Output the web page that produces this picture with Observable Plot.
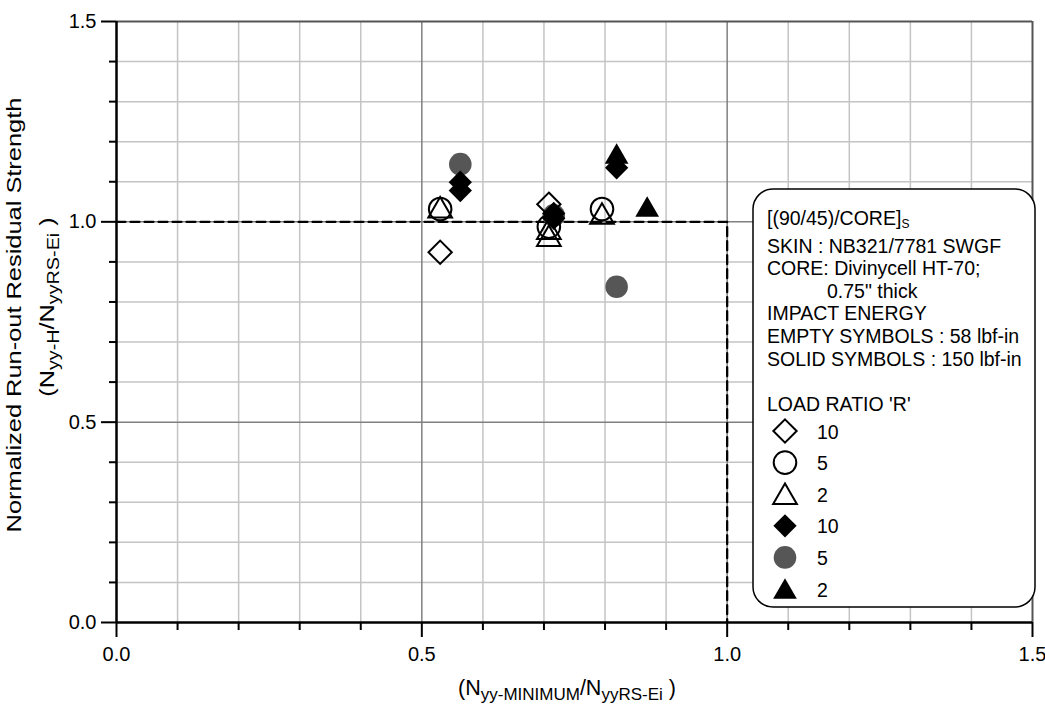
<!DOCTYPE html>
<html>
<head>
<meta charset="utf-8">
<script src="https://cdn.jsdelivr.net/npm/d3@7"></script>
<script src="https://cdn.jsdelivr.net/npm/@observablehq/plot@0.6"></script>
<style>
  html, body { margin: 0; padding: 0; background: #fff; }
  #chart svg { display: block; }
</style>
</head>
<body>
<div id="chart"></div>
<script>
// ---- tick values ----
const xMajor = [0, 0.5, 1.0, 1.5];
const xMinor = [0.1, 0.2, 0.3, 0.4, 0.6, 0.7, 0.8, 0.9, 1.1, 1.2, 1.3, 1.4];
const yMajor = [0, 0.5, 1.0, 1.5];
const yMinor = [0.1, 0.2, 0.3, 0.4, 0.6, 0.7, 0.8, 0.9, 1.1, 1.2, 1.3, 1.4];

// ---- reference (dashed) path ----
const refPath = [[0, 1.0], [1.0, 1.0], [1.0, 0]];

// ---- data series [x, y] ----
// empty symbols : 58 lbf-in
const r10_58 = [[0.530, 0.924], [0.708, 1.044]];
const r5_58  = [[0.530, 1.032], [0.708, 0.988], [0.795, 1.032]];
const r2_58  = [[0.530, 1.028], [0.708, 0.974], [0.708, 0.957], [0.795, 1.012]];
// solid symbols : 150 lbf-in
const r5_150  = [[0.563, 1.144], [0.716, 1.016], [0.819, 0.838]];
const r10_150 = [[0.563, 1.099], [0.563, 1.078], [0.716, 1.021], [0.716, 1.009], [0.819, 1.135]];
const r2_150  = [[0.819, 1.162], [0.869, 1.030]];

// ---- legend ----
const legendLines = [
  "SKIN : NB321/7781 SWGF",
  "CORE: Divinycell HT-70;",
  "0.75\" thick",
  "IMPACT ENERGY",
  "EMPTY SYMBOLS : 58 lbf-in",
  "SOLID SYMBOLS : 150 lbf-in",
  "",
  "LOAD RATIO 'R'"
];
const legendItems = [
  {label: "10", symbol: "diamond2", fill: "none", stroke: "black"},
  {label: "5",  symbol: "circle",   fill: "none", stroke: "black"},
  {label: "2",  symbol: "triangle", fill: "none", stroke: "black"},
  {label: "10", symbol: "diamond2", fill: "black", stroke: "none"},
  {label: "5",  symbol: "circle",   fill: "#565656", stroke: "none"},
  {label: "2",  symbol: "triangle", fill: "black", stroke: "none"}
];

const FONT = "'Liberation Sans', Arial, Helvetica, sans-serif";
const R_CIRCLE = 11.3, R_DIAMOND = 10.5, R_TRI = 8.8;
const symR = {circle: R_CIRCLE, diamond2: R_DIAMOND, triangle: R_TRI};
const fmt = d3.format(".1f");

const chart = Plot.plot({
  width: 1045,
  height: 704,
  marginLeft: 116,
  marginRight: 13,
  marginTop: 21,
  marginBottom: 82,
  x: {domain: [0, 1.5]},
  y: {domain: [0, 1.5]},
  style: {fontFamily: FONT, color: "black", background: "white", overflow: "visible"},
  marks: [
    Plot.gridX(xMinor, {stroke: "#c4c4c4", strokeOpacity: 1, strokeWidth: 1.5}),
    Plot.gridY(yMinor, {stroke: "#c4c4c4", strokeOpacity: 1, strokeWidth: 1.5}),
    Plot.gridX([0.5, 1.0], {stroke: "#808080", strokeOpacity: 1, strokeWidth: 1.5}),
    Plot.gridY([0.5, 1.0], {stroke: "#808080", strokeOpacity: 1, strokeWidth: 1.5}),
    Plot.ruleX([1.5], {stroke: "#555", strokeWidth: 2}),
    Plot.ruleY([1.5], {stroke: "#555", strokeWidth: 2}),
    Plot.line(refPath, {stroke: "black", strokeWidth: 2.3, strokeDasharray: "9,5"}),
    Plot.axisX(xMinor, {tickSize: 8, strokeWidth: 2, tickFormat: () => "", label: null}),
    Plot.axisX(xMajor, {tickSize: 15, tickPadding: 9, strokeWidth: 2, fontSize: 20, tickFormat: fmt, label: null}),
    Plot.axisY(yMinor, {tickSize: 7, strokeWidth: 2, tickFormat: () => "", label: null}),
    Plot.axisY(yMajor, {tickSize: 15, tickPadding: 5, strokeWidth: 2, fontSize: 20, tickFormat: fmt, label: null}),
    Plot.ruleX([0], {stroke: "black", strokeWidth: 2.5}),
    Plot.ruleY([0], {stroke: "black", strokeWidth: 2.5}),
    Plot.dot(r5_150,  {symbol: "circle",   r: R_CIRCLE,  fill: "#565656", stroke: "none"}),
    Plot.dot(r10_58,  {symbol: "diamond2", r: R_DIAMOND, fill: "none", stroke: "black", strokeWidth: 2}),
    Plot.dot(r5_58,   {symbol: "circle",   r: R_CIRCLE,  fill: "none", stroke: "black", strokeWidth: 2}),
    Plot.dot(r2_58,   {symbol: "triangle", r: R_TRI,     fill: "none", stroke: "black", strokeWidth: 2}),
    Plot.dot(r10_150, {symbol: "diamond2", r: R_DIAMOND, fill: "black", stroke: "none"}),
    Plot.dot(r2_150,  {symbol: "triangle", r: R_TRI,     fill: "black", stroke: "none"})
  ]
});

document.getElementById("chart").appendChild(chart);

// ---- axis titles with subscripts ----
const svg = d3.select(chart);
function addSubText(g, parts, mainSize, subSize, subDy) {
  const t = g.append("text")
    .attr("text-anchor", "middle")
    .attr("font-family", FONT)
    .attr("font-size", mainSize)
    .attr("fill", "black");
  parts.forEach(p => {
    const ts = t.append("tspan").text(p.t);
    if (p.sub) ts.attr("font-size", subSize).attr("dy", subDy);
    else if (p.back) ts.attr("dy", -subDy);
  });
  return t;
}

// X title
addSubText(svg.append("g").attr("transform", "translate(567,695)"), [
  {t: "(N"}, {t: "yy-MINIMUM", sub: true}, {t: "/N", back: true}, {t: "yyRS-Ei", sub: true}, {t: " )", back: true}
], 21.5, 17, 5);

// Y title line 1
svg.append("text")
  .attr("transform", "translate(20.5,315) rotate(-90) scale(1.21,1)")
  .attr("text-anchor", "middle")
  .attr("font-family", FONT)
  .attr("font-size", 21)
  .attr("fill", "black")
  .text("Normalized Run-out Residual Strength");

// Y title line 2
addSubText(svg.append("g").attr("transform", "translate(53.5,307) rotate(-90) scale(1.2,1)"), [
  {t: "(N"}, {t: "yy-H", sub: true}, {t: "/N", back: true}, {t: "yyRS-Ei", sub: true}, {t: " )", back: true}
], 21, 16.5, 5);

// ---- legend box ----
const lg = svg.append("g").attr("font-family", FONT).attr("fill", "black").attr("text-anchor", "start");
lg.append("rect")
  .attr("x", 753).attr("y", 189).attr("width", 282).attr("height", 418)
  .attr("rx", 20).attr("ry", 20)
  .attr("fill", "white").attr("stroke", "black").attr("stroke-width", 1.5);

const t0 = lg.append("text").attr("x", 767).attr("y", 225).attr("font-size", 19.5).attr("text-anchor", "start");
t0.append("tspan").text("[(90/45)/CORE]");
t0.append("tspan").attr("font-size", 12).attr("dy", 3).text("S");

legendLines.forEach((s, i) => {
  if (!s) return;
  lg.append("text")
    .attr("text-anchor", "start")
    .attr("x", s.startsWith("0.75") ? 827 : 767)
    .attr("y", 252.5 + i * 22.6)
    .attr("font-size", 19.5)
    .text(s);
});

const symMap = {circle: d3.symbolCircle, diamond2: d3.symbolDiamond2, triangle: d3.symbolTriangle};
legendItems.forEach((it, i) => {
  const cy = 431 + i * 31.6;
  const r = symR[it.symbol];
  lg.append("path")
    .attr("transform", `translate(785,${cy + (it.symbol === "triangle" ? 3 : 0)})`)
    .attr("d", d3.symbol(symMap[it.symbol], Math.PI * r * r)())
    .attr("fill", it.fill)
    .attr("stroke", it.stroke)
    .attr("stroke-width", 2);
  lg.append("text")
    .attr("text-anchor", "start")
    .attr("x", 817).attr("y", cy + 7.5)
    .attr("font-size", 19.5)
    .text(it.label);
});
</script>
</body>
</html>
